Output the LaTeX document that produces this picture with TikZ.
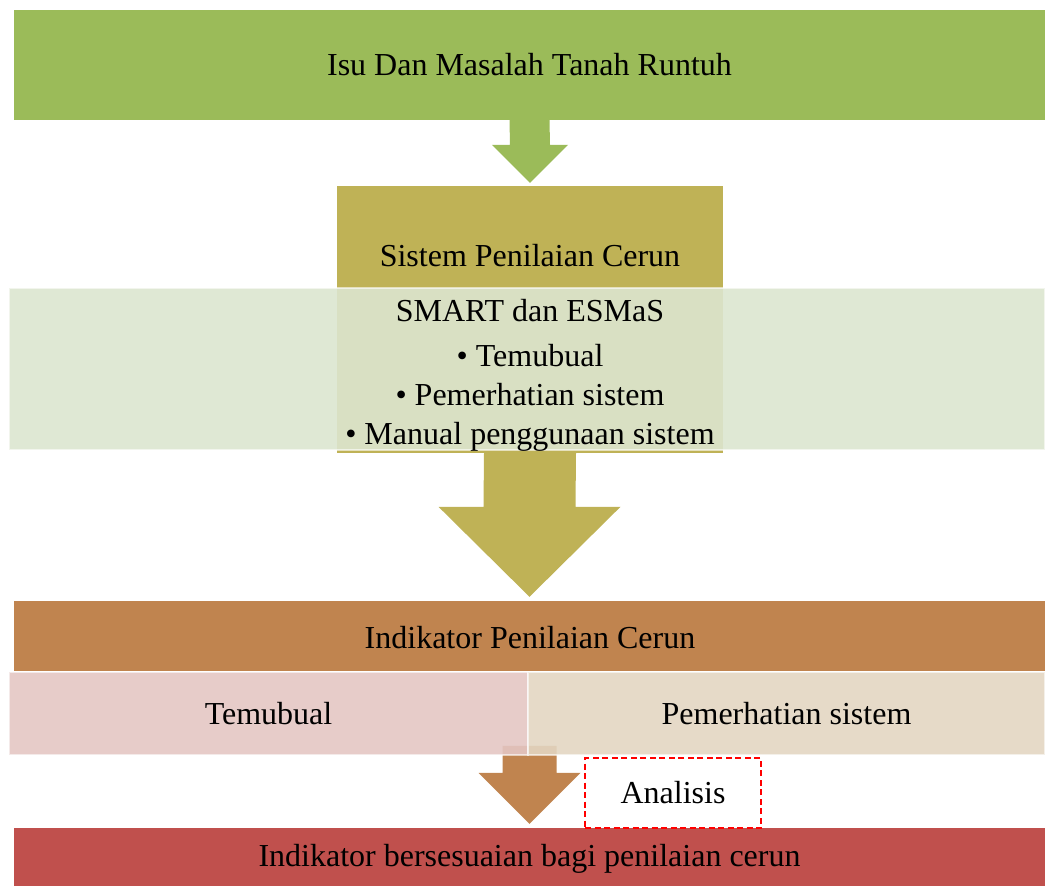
\documentclass[tikz,border=0pt]{standalone}
\usepackage{fontspec}
\setmainfont{Liberation Serif}
\usetikzlibrary{calc}

\definecolor{isugreen}{HTML}{9BBB59}
\definecolor{sisolive}{HTML}{BFB256}
\definecolor{bandgreen}{HTML}{DCE5CF}
\definecolor{indbrown}{HTML}{C0844F}
\definecolor{tempink}{HTML}{E4C6C3}
\definecolor{pembeige}{HTML}{E3D6C2}
\definecolor{hasilred}{HTML}{C0504D}

\begin{document}
\begin{tikzpicture}[x=1pt, y=-1pt]
			% Define styles
			\tikzstyle{block} = [rectangle, inner sep=0pt, text centered, font=\fontsize{32}{39}\selectfont]
			\tikzstyle{band} = [block, draw=white, draw opacity=0.6, line width=1.5pt, fill opacity=0.9, text opacity=1]
			\tikzstyle{note} = [block, draw=red, dashed, dash pattern=on 6pt off 3.5pt, line width=1.6pt, fill=white]
			
			\useasboundingbox (0,0) rectangle (1045,886);
			
			% Nodes
			\node (isu) [block, fill=isugreen, minimum width=1031, minimum height=110] at (529.5,65) {Isu Dan Masalah Tanah Runtuh};
			\node (sistem) [block, fill=sisolive, minimum width=386, minimum height=267] at (530,319.5) {};
			\node (sistemtxt) [block] at (530,256) {Sistem Penilaian Cerun};
			\node (indikator) [block, fill=indbrown, minimum width=1031, minimum height=70] at (529.5,636) {};
			\node (indikatortxt) [block] at (530,638) {Indikator Penilaian Cerun};
			\node (hasil) [block, fill=hasilred, minimum width=1031, minimum height=62] at (529.5,859) {Indikator bersesuaian bagi penilaian cerun};
			
			% Arrows
			\fill [isugreen] ($(isu.south)+(-20,0)$) -- ($(sistem.north)+(-20,-41)$) -- ($(sistem.north)+(-38,-41)$) -- ($(sistem.north)+(0,-3)$)
				-- ($(sistem.north)+(38,-41)$) -- ($(sistem.north)+(20,-41)$) -- ($(isu.south)+(20,0)$) -- cycle;
			\fill [sisolive] ($(sistem.south)+(-46,0)$) -- ($(indikator.north)+(-46,-94)$) -- ($(indikator.north)+(-91,-94)$) -- ($(indikator.north)+(0,-4)$)
				-- ($(indikator.north)+(91,-94)$) -- ($(indikator.north)+(46,-94)$) -- ($(sistem.south)+(46,0)$) -- cycle;
			\fill [indbrown] ($(hasil.north)+(-27,-82)$) -- ($(hasil.north)+(-27,-55)$) -- ($(hasil.north)+(-51,-55)$) -- ($(hasil.north)+(0,-4)$)
				-- ($(hasil.north)+(51,-55)$) -- ($(hasil.north)+(27,-55)$) -- ($(hasil.north)+(27,-82)$) -- cycle;
			
			% Bands over the boxes
			\node (smart) [band, fill=bandgreen, minimum width=1036, minimum height=162] at (527,369) {};
			\node (smarttxt) [block, align=center] at (530,375)
				{SMART dan ESMaS\\[6pt] \textbullet\ Temubual\\ \textbullet\ Pemerhatian sistem\\ \textbullet\ Manual penggunaan sistem};
			\node (temubual) [band, fill=tempink, minimum width=519, minimum height=83] at (268.5,713.5) {Temubual};
			\node (pemerhatian) [band, fill=pembeige, minimum width=517, minimum height=83] at (786.5,713.5) {Pemerhatian sistem};
			\node (analisis) [note, minimum width=176, minimum height=70] at (673,793) {Analisis};
		\end{tikzpicture}
\end{document}
